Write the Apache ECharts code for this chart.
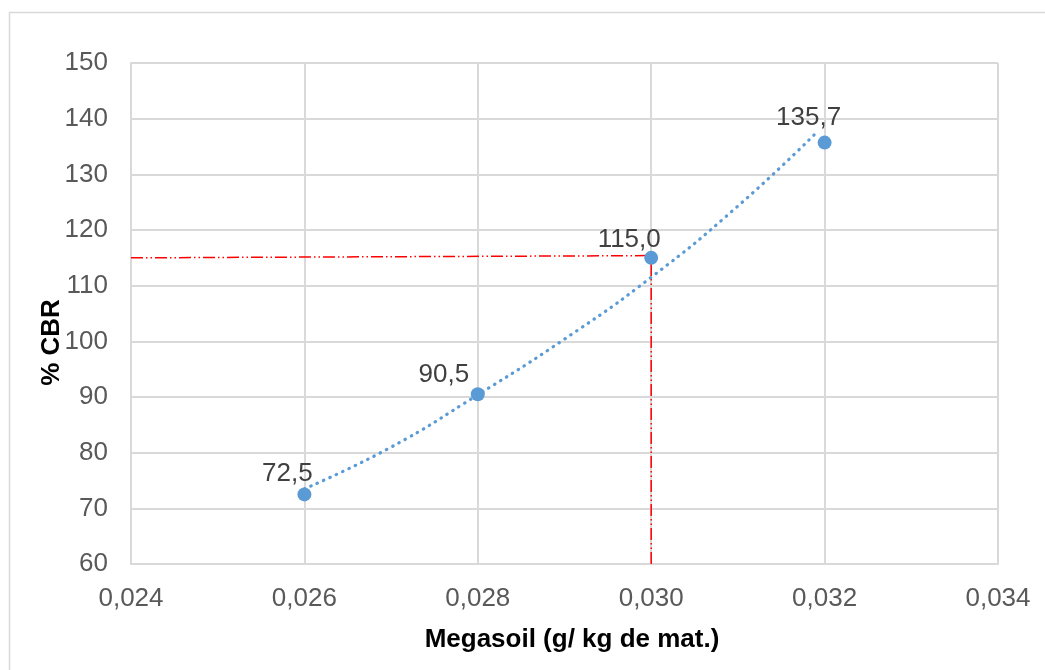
<!DOCTYPE html>
<html>
<head>
<meta charset="utf-8">
<script src="https://cdn.jsdelivr.net/npm/echarts@6/dist/echarts.min.js"></script>
<style>
  html, body { margin: 0; padding: 0; background: #fff; }
  #main { width: 1045px; height: 670px; }
</style>
</head>
<body>
<div id="main"></div>
<script>
// medidos
const dosis = [0.026, 0.028, 0.030, 0.032]
const cbr = [72.5, 90.5, 115.0, 135.7]

// línea de tendencia
const tendX = [0.026, 0.027, 0.028, 0.029, 0.030, 0.031, 0.0319]
const tendY = [73.5, 81.0, 90.4, 100.4, 111.5, 124.3, 137.4]

// líneas de referencia (rojo)
const refHorizX = [0.024, 0.030]
const refHorizY = [115.0, 115.4]
const refVertX = [0.030, 0.030]
const refVertY = [60, 115.4]

const xTicks = { min: 0.024, max: 0.034, interval: 0.002 }
const yTicks = { min: 60, max: 150, interval: 10 }

// desplazamiento de cada etiqueta (px)
const labelOffsets = [[-17, 0], [-34, 2], [-22, 3], [-16, -4]]

const zip = (a, b) => a.map((v, i) => [v, b[i]])
const coma = (v, d) => v.toFixed(d).replace('.', ',')

const chartDom = document.getElementById('main')
const myChart = echarts.init(chartDom)

const gris = '#d9d9d9'
const fuente = 'Liberation Sans'
const option = {
  animation: false,
  backgroundColor: '#fff',
  graphic: [
    {
      type: 'rect',
      shape: { x: 9.5, y: 12.5, width: 1100, height: 700 },
      style: { fill: 'none', stroke: gris, lineWidth: 1.5 },
      silent: true
    }
  ],
  grid: { left: 131, right: 47, top: 63, bottom: 106 },
  xAxis: {
    type: 'value',
    min: xTicks.min,
    max: xTicks.max,
    interval: xTicks.interval,
    name: 'Megasoil (g/ kg de mat.)',
    nameLocation: 'middle',
    nameGap: 63,
    nameMoveOverlap: false,
    nameTextStyle: { fontFamily: fuente, fontSize: 26, fontWeight: 'bold', color: '#000', padding: [0, 0, 0, 15] },
    axisLine: { show: true, lineStyle: { color: gris, width: 2 } },
    axisTick: { show: false },
    splitLine: { show: true, lineStyle: { color: gris, width: 2 } },
    axisLabel: {
      margin: 22,
      fontFamily: fuente,
      fontSize: 26,
      color: '#595959',
      formatter: (v) => coma(v, 3)
    }
  },
  yAxis: {
    type: 'value',
    min: yTicks.min,
    max: yTicks.max,
    interval: yTicks.interval,
    name: '% CBR',
    nameLocation: 'middle',
    nameGap: 66,
    nameMoveOverlap: false,
    nameTextStyle: { fontFamily: fuente, fontSize: 26, fontWeight: 'bold', color: '#000', padding: [0, 58, 0, 0] },
    axisLine: { show: true, lineStyle: { color: gris, width: 2 } },
    axisTick: { show: false },
    splitLine: { show: true, lineStyle: { color: gris, width: 2 } },
    axisLabel: {
      margin: 23,
      fontFamily: fuente,
      fontSize: 26,
      color: '#595959'
    }
  },
  series: [
    {
      name: 'refH',
      type: 'line',
      data: zip(refHorizX, refHorizY),
      symbol: 'none',
      lineStyle: { color: '#ff0000', width: 1.5, type: [12, 3, 1.5, 3, 1.5, 3] },
      z: 1
    },
    {
      name: 'refV',
      type: 'line',
      data: zip(refVertX, refVertY),
      symbol: 'none',
      lineStyle: { color: '#ff0000', width: 1.5, type: [12, 3, 1.5, 3, 1.5, 3] },
      z: 1
    },
    {
      name: 'tendencia',
      type: 'line',
      data: zip(tendX, tendY),
      smooth: true,
      symbol: 'none',
      lineStyle: { color: '#5b9bd5', width: 3.2, type: [0.5, 6.5], cap: 'round' },
      z: 2
    },
    {
      name: 'CBR',
      type: 'scatter',
      data: zip(dosis, cbr).map((p, i) => ({ value: p, label: { offset: labelOffsets[i] } })),
      symbolSize: 14,
      itemStyle: { color: '#5b9bd5', opacity: 1 },
      label: {
        show: true,
        position: 'top',
        distance: 1,
        fontFamily: fuente,
        fontSize: 26,
        color: '#404040',
        formatter: (p) => coma(p.value[1], 1)
      },
      z: 3
    }
  ]
}

option && myChart.setOption(option)
</script>
</body>
</html>
